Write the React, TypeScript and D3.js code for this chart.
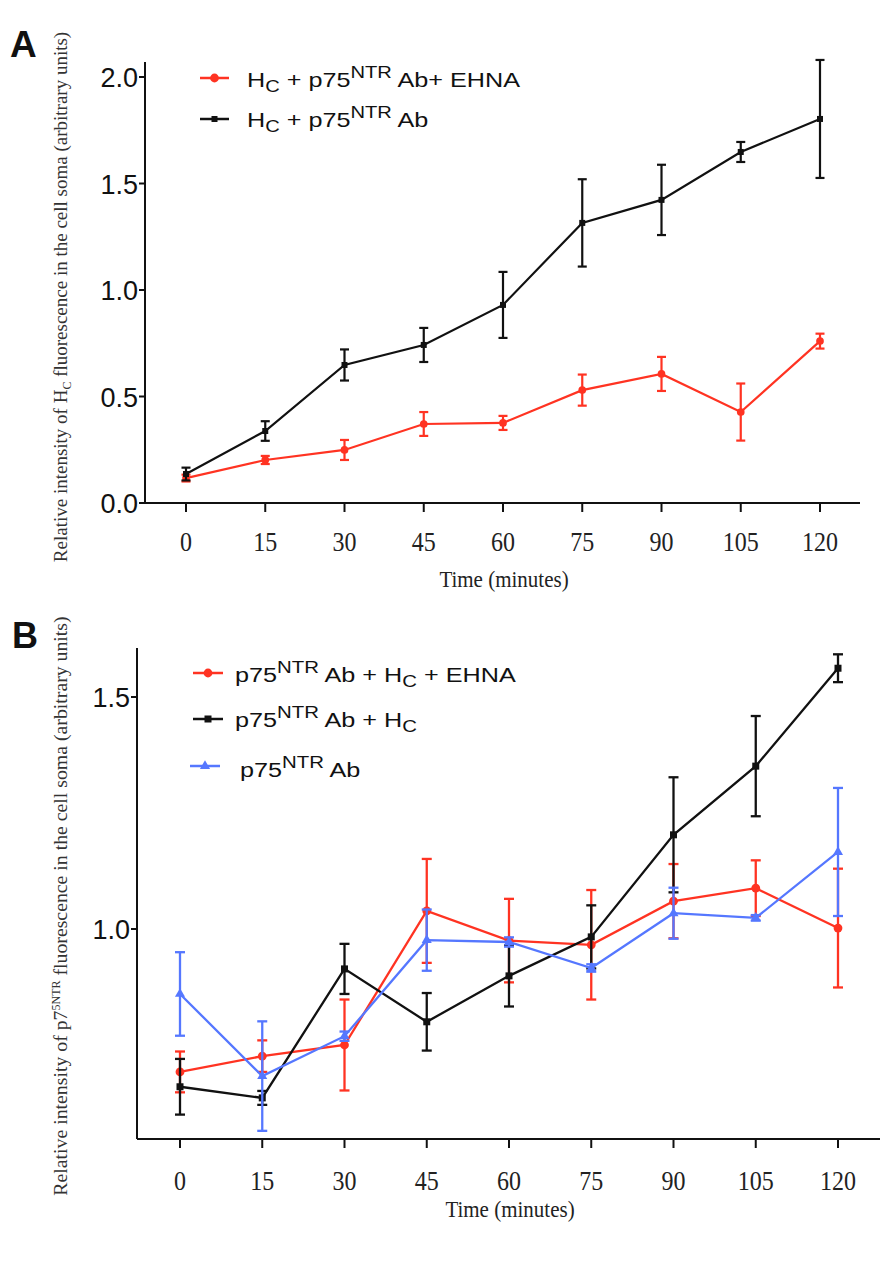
import React from 'react';
import * as d3 from 'd3';

const times = [0, 15, 30, 45, 60, 75, 90, 105, 120];

// panel A
const aEhnaMean = [0.117, 0.202, 0.249, 0.371, 0.376, 0.53, 0.606, 0.427, 0.76];
const aEhnaErr = [0.016, 0.019, 0.047, 0.056, 0.033, 0.073, 0.08, 0.134, 0.035];
const aAbMean = [0.136, 0.338, 0.648, 0.742, 0.93, 1.315, 1.423, 1.648, 1.803];
const aAbErr = [0.03, 0.046, 0.073, 0.08, 0.155, 0.205, 0.165, 0.047, 0.277];
const aYTicks = [0, 0.5, 1.0, 1.5, 2.0];

// panel B
const bEhnaMean = [0.692, 0.726, 0.75, 1.039, 0.975, 0.966, 1.06, 1.088, 1.002];
const bEhnaErr = [0.044, 0.034, 0.098, 0.112, 0.09, 0.118, 0.08, 0.06, 0.128];
const bHcMean = [0.66, 0.636, 0.914, 0.8, 0.899, 0.983, 1.203, 1.351, 1.562];
const bHcErr = [0.06, 0.015, 0.054, 0.062, 0.066, 0.068, 0.124, 0.108, 0.03];
const bAbMean = [0.86, 0.683, 0.769, 0.976, 0.972, 0.916, 1.034, 1.024, 1.166];
const bAbErr = [0.09, 0.118, 0.01, 0.066, 0.01, 0.008, 0.055, 0.006, 0.138];
const bYTicks = [1.0, 1.5];

const RED = '#ff3322';
const BLACK = '#111111';
const BLUE = '#5577ff';
const SANS = '"Liberation Sans", Arial, sans-serif';
const SERIF = '"Liberation Serif", "Times New Roman", serif';

type Marker = 'circle' | 'square' | 'triangle';

function drawMarker(kind: Marker, cx: number, cy: number, color: string, s: number, key?: string) {
  if (kind === 'circle') return <circle key={key} cx={cx} cy={cy} r={s * 0.55} fill={color} />;
  if (kind === 'square')
    return <rect key={key} x={cx - s / 2} y={cy - s / 2} width={s} height={s} fill={color} />;
  const sym = d3.symbol(d3.symbolTriangle, s * s * 0.9)();
  return <path key={key} d={sym || ''} transform={`translate(${cx},${cy})`} fill={color} />;
}

function Series({ x, y, mean, err, color, marker, cap, size, width }: any) {
  const pts = times.map((t, i) => [x(t), y(mean[i])] as [number, number]);
  const line = d3.line()(pts) || '';
  return (
    <g>
      {times.map((t, i) => {
        const cx = x(t);
        const top = y(mean[i] + err[i]);
        const bot = y(mean[i] - err[i]);
        return (
          <g key={i} stroke={color} strokeWidth={width}>
            <line x1={cx} x2={cx} y1={top} y2={bot} />
            <line x1={cx - cap} x2={cx + cap} y1={top} y2={top} />
            <line x1={cx - cap} x2={cx + cap} y1={bot} y2={bot} />
          </g>
        );
      })}
      <path d={line} fill="none" stroke={color} strokeWidth={width} />
      {pts.map((p, i) => drawMarker(marker, p[0], p[1], color, size, 'm' + i))}
    </g>
  );
}

function XAxis({ x, y0, left, right, labelY, titleY }: any) {
  return (
    <g>
      <line x1={left} x2={right} y1={y0} y2={y0} stroke={BLACK} strokeWidth={2} />
      {times.map((t) => (
        <g key={t}>
          <line x1={x(t)} x2={x(t)} y1={y0} y2={y0 + 9} stroke={BLACK} strokeWidth={2} />
          <text
            transform={`translate(${x(t)},${labelY}) scale(1,1.15)`}
            textAnchor="middle"
            fontFamily={SERIF}
            fontSize={24}
            fill="#222"
          >
            {t}
          </text>
        </g>
      ))}
      <text
        transform={`translate(${(x(0) + x(120)) / 2 + 1},${titleY}) scale(1,1.1)`}
        textAnchor="middle"
        fontFamily={SERIF}
        fontSize={21}
        fill="#222"
      >
        Time (minutes)
      </text>
    </g>
  );
}

function YAxis({ y, ticks, ax, top, bottom, fmt }: any) {
  return (
    <g>
      <line x1={ax} x2={ax} y1={top} y2={bottom} stroke={BLACK} strokeWidth={2} />
      {ticks.map((v: number) => (
        <g key={v}>
          <line x1={ax - 6} x2={ax} y1={y(v)} y2={y(v)} stroke={BLACK} strokeWidth={2} />
          <text
            x={ax - 7}
            y={y(v) + 10}
            textAnchor="end"
            fontFamily={SANS}
            fontSize={27}
            fill="#111"
          >
            {fmt(v)}
          </text>
        </g>
      ))}
    </g>
  );
}

function LegendRow({ x1, x2, y, color, marker, size, tx, ty, fs, sx, children }: any) {
  return (
    <g>
      <line x1={x1} x2={x2} y1={y} y2={y} stroke={color} strokeWidth={2.5} />
      {drawMarker(marker, (x1 + x2) / 2, y, color, size)}
      <text
        transform={`translate(${tx},${ty}) scale(${sx},1)`}
        fontFamily={SANS}
        fontSize={fs}
        fill="#111"
      >
        {children}
      </text>
    </g>
  );
}

export default function App() {
  // panel A scales
  const xA = d3.scaleLinear().domain([0, 120]).range([186, 820]);
  const yA = d3.scaleLinear().domain([0, 2]).range([503, 77]);
  // panel B scales
  const xB = d3.scaleLinear().domain([0, 120]).range([180, 838]);
  const yB = d3.scaleLinear().domain([1.0, 1.5]).range([929, 697]);

  return (
    <svg
      width={885}
      height={1273}
      viewBox="0 0 885 1273"
      style={{ position: 'absolute', left: 0, top: 0, background: '#fff' }}
    >
      <rect width={885} height={1273} fill="#fff" />

      {/* ---------- Panel A ---------- */}
      <text x={10} y={57} fontFamily={SANS} fontWeight="bold" fontSize={37} fill="#111">A</text>
      <YAxis y={yA} ticks={aYTicks} ax={145} top={yA(2.07)} bottom={503} fmt={d3.format('.1f')} />
      <XAxis x={xA} y0={503} left={145} right={860} labelY={551} titleY={587} />
      <Series x={xA} y={yA} mean={aEhnaMean} err={aEhnaErr} color={RED} marker="circle" cap={4.5} size={7} width={2.2} />
      <Series x={xA} y={yA} mean={aAbMean} err={aAbErr} color={BLACK} marker="square" cap={4.5} size={6} width={2.2} />

      <g transform="translate(67,297) rotate(-90)">
        <text textAnchor="middle" fontFamily={SERIF} fontSize={19} fill="#333">
          Relative intensity of H
          <tspan dy={4} fontSize={12}>C</tspan>
          <tspan dy={-4}> fluorescence in the cell soma (arbitrary units)</tspan>
        </text>
      </g>

      <LegendRow x1={200} x2={229} y={78} color={RED} marker="circle" size={8} tx={247} ty={87} fs={20} sx={1.26}>
        H<tspan dy={5} fontSize={16}>C</tspan>
        <tspan dy={-5}> + p75</tspan>
        <tspan dy={-9} fontSize={16}>NTR</tspan>
        <tspan dy={9}>  Ab+ EHNA</tspan>
      </LegendRow>
      <LegendRow x1={200} x2={229} y={119} color={BLACK} marker="square" size={6} tx={247} ty={127} fs={20} sx={1.26}>
        H<tspan dy={5} fontSize={16}>C</tspan>
        <tspan dy={-5}> + p75</tspan>
        <tspan dy={-9} fontSize={16}>NTR</tspan>
        <tspan dy={9}> Ab</tspan>
      </LegendRow>

      {/* ---------- Panel B ---------- */}
      <text x={12} y={648} fontFamily={SANS} fontWeight="bold" fontSize={36} fill="#111">B</text>
      <YAxis y={yB} ticks={bYTicks} ax={137} top={648} bottom={1139} fmt={d3.format('.1f')} />
      <XAxis x={xB} y0={1139} left={137} right={880} labelY={1190} titleY={1217} />
      <Series x={xB} y={yB} mean={bEhnaMean} err={bEhnaErr} color={RED} marker="circle" cap={5} size={8} width={2.3} />
      <Series x={xB} y={yB} mean={bHcMean} err={bHcErr} color={BLACK} marker="square" cap={5} size={7} width={2.3} />
      <Series x={xB} y={yB} mean={bAbMean} err={bAbErr} color={BLUE} marker="triangle" cap={5} size={7} width={2.3} />

      <g transform="translate(67,906) rotate(-90)">
        <text textAnchor="middle" fontFamily={SERIF} fontSize={19.8} fill="#333">
          Relative intensity of p7
          <tspan dy={-7} fontSize={12}>5NTR</tspan>
          <tspan dy={7}> fluorescence in the cell soma (arbitrary units)</tspan>
        </text>
      </g>

      <LegendRow x1={193} x2={223} y={673} color={RED} marker="circle" size={8} tx={235} ty={682} fs={21} sx={1.2}>
        p75<tspan dy={-9} fontSize={17}>NTR</tspan>
        <tspan dy={9}> Ab + H</tspan>
        <tspan dy={5} fontSize={17}>C</tspan>
        <tspan dy={-5}> + EHNA</tspan>
      </LegendRow>
      <LegendRow x1={193} x2={223} y={719} color={BLACK} marker="square" size={7} tx={235} ty={727} fs={21} sx={1.2}>
        p75<tspan dy={-9} fontSize={17}>NTR</tspan>
        <tspan dy={9}> Ab + H</tspan>
        <tspan dy={5} fontSize={17}>C</tspan>
      </LegendRow>
      <LegendRow x1={190} x2={220} y={766} color={BLUE} marker="triangle" size={7} tx={240} ty={777} fs={21} sx={1.2}>
        p75<tspan dy={-9} fontSize={17}>NTR</tspan>
        <tspan dy={9}> Ab</tspan>
      </LegendRow>
    </svg>
  );
}
